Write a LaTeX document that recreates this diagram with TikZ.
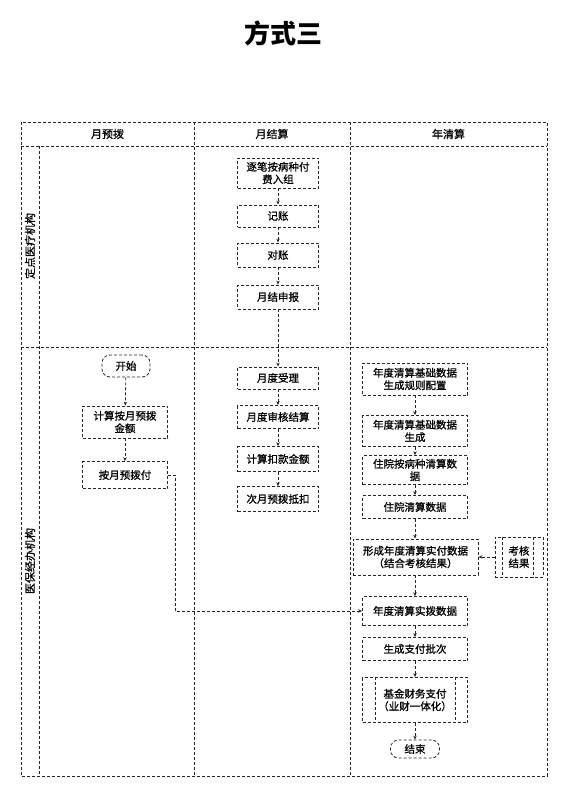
\documentclass[tikz,border=0pt]{standalone}
\usepackage{fontspec}
\setmainfont{Noto Sans CJK SC}
\newfontfamily\medfont{Noto Sans CJK SC}[FakeBold=0.9]
\usepackage{tikz}
\usetikzlibrary{arrows.meta,positioning,calc}

\begin{document}
\begin{tikzpicture}[
  x=1pt,y=-1pt,
  lane/.style={densely dashed,line width=.9pt,black!85},
  box/.style={draw=black!85,densely dashed,line width=.8pt,align=center,minimum width=81pt,inner sep=1pt,font=\medfont\fontsize{10.5}{12.5}\selectfont},
  wbox/.style={box,minimum width=105pt},
  term/.style={box,rounded corners=8pt,minimum width=48pt},
  arr/.style={-{Stealth[length=4pt,width=3.5pt]},densely dashed,line width=.8pt,black!85},
  hd/.style={font=\medfont\fontsize{11}{13}\selectfont}
]
\useasboundingbox (0,0) rectangle (564,791);
\node[font=\fontsize{26}{30}\selectfont\bfseries] (title) at (283,33) {方式三};
% swim lanes
\draw[lane] (21,122) rectangle (547,776);
\draw[lane] (21,146) -- (547,146);
\draw[lane] (21,347) -- (547,347);
\draw[lane] (39,146) -- (39,776);
\draw[lane] (194,122) -- (194,776);
\draw[lane] (350,122) -- (350,776);
\node[hd] (hmon) at (107.5,134) {月预拨};
\node[hd] (hset) at (272,134) {月结算};
\node[hd] (hyear) at (448.5,134) {年清算};
\node[hd,rotate=90] (rhosp) at (30,246) {定点医疗机构};
\node[hd,rotate=90] (ragency) at (30,561) {医保经办机构};
% monthly pre-allocation
\node[term,minimum height=22pt] (start) at (126,366) {开始};
\node[box,minimum width=85pt,minimum height=32pt] (calcpre) at (125,422) {计算按月预拨\\金额};
\node[box,minimum width=85pt,minimum height=27pt] (paypre) at (125,475) {按月预拨付};
% monthly settlement
\node[box,minimum height=30pt] (group) at (278,173) {逐笔按病种付\\费入组};
\node[box,minimum height=22pt] (jizhang) at (278,216) {记账};
\node[box,minimum height=24pt] (duizhang) at (278,255) {对账};
\node[box,minimum height=24pt] (shenbao) at (278,297) {月结申报};
\node[box,minimum height=22pt] (shouli) at (278,378) {月度受理};
\node[box,minimum height=23pt] (shenhe) at (278,417) {月度审核结算};
\node[box,minimum height=25pt] (kouk) at (278,459) {计算扣款金额};
\node[box,minimum height=25pt] (dikou) at (278,499) {次月预拨抵扣};
% annual liquidation
\node[wbox,minimum height=32pt] (rule) at (415,379) {年度清算基础数据\\生成规则配置};
\node[wbox,minimum height=31pt] (basegen) at (415,431) {年度清算基础数据\\生成};
\node[wbox,minimum height=29pt] (drgdata) at (415,470) {住院按病种清算数\\据};
\node[wbox,minimum height=23pt] (inpat) at (415,507) {住院清算数据};
\node[box,minimum width=125pt,minimum height=36pt] (shifu) at (415.5,557) {形成年度清算实付数据\\（结合考核结果）};
\node[box,minimum width=48pt,minimum height=40pt] (kaohe) at (519,557) {考核\\结果};
\node[wbox,minimum height=29pt] (shibo) at (415,611) {年度清算实拨数据};
\node[wbox,minimum height=23pt] (pici) at (415,649) {生成支付批次};
\node[wbox,minimum height=45pt] (fundpay) at (415,700) {基金财务支付\\（业财一体化）};
\node[term,minimum width=49pt,minimum height=18pt] (end) at (415,749) {结束};
\draw[lane,line width=.8pt] ([xshift=8]kaohe.north west) -- ([xshift=8]kaohe.south west);
\draw[lane,line width=.8pt] ([xshift=-10]kaohe.north east) -- ([xshift=-10]kaohe.south east);
\draw[lane,line width=.8pt] ([xshift=13]fundpay.north west) -- ([xshift=13]fundpay.south west);
\draw[lane,line width=.8pt] ([xshift=-13]fundpay.north east) -- ([xshift=-13]fundpay.south east);
% connectors
\draw[arr] (start) -- (calcpre);\draw[arr] (calcpre) -- (paypre);
\draw[arr] (paypre.east) -- ++(7,0) |- (shibo.west);
\draw[arr] (group) -- (jizhang);\draw[arr] (jizhang) -- (duizhang);\draw[arr] (duizhang) -- (shenbao);
\draw[arr] (shenbao) -- (shouli);\draw[arr] (shouli) -- (shenhe);\draw[arr] (shenhe) -- (kouk);\draw[arr] (kouk) -- (dikou);
\draw[arr] (rule) -- (basegen);\draw[arr] (basegen) -- (drgdata);\draw[arr] (drgdata) -- (inpat);
\draw[arr] (inpat) -- (inpat|-shifu.north);\draw[arr] (shifu.south-|shibo) -- (shibo);
\draw[arr] (kaohe) -- (shifu);
\draw[arr] (shibo) -- (pici);\draw[arr] (pici) -- (fundpay);\draw[arr] (fundpay) -- (end);
\end{tikzpicture}
\end{document}
